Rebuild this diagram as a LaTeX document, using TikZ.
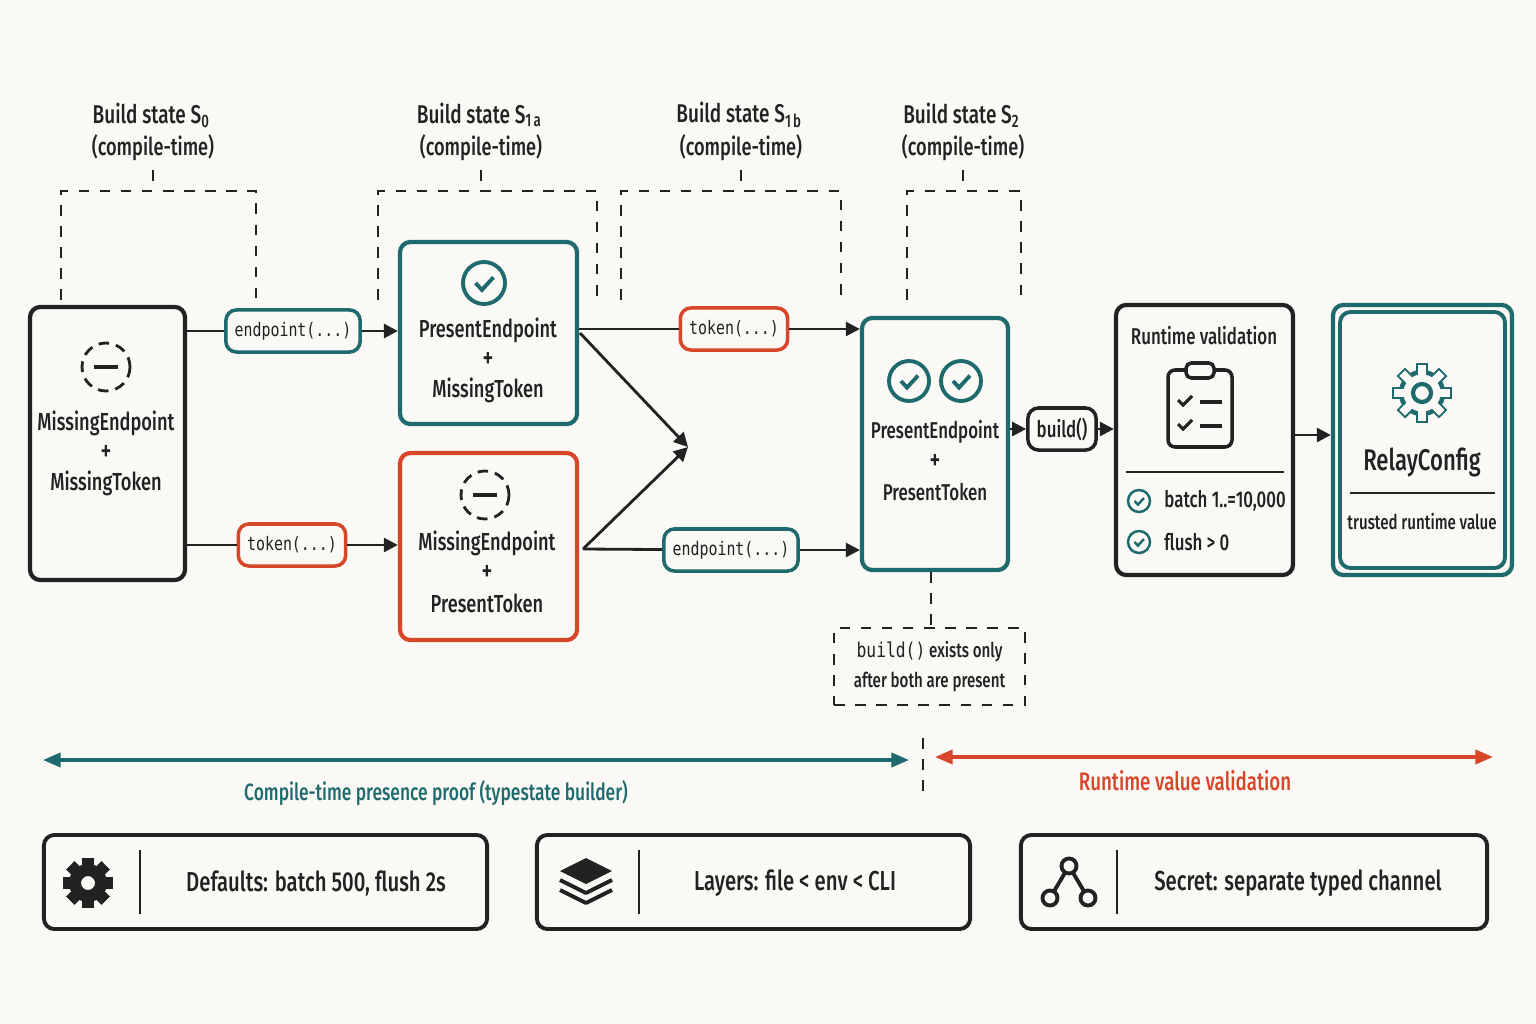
\documentclass[tikz,border=0pt]{standalone}
\usepackage{fontspec}
\setmainfont{Fira Sans Medium}[FakeStretch=0.74]
\setmonofont{DejaVu Sans Mono}[FakeStretch=0.8]
\usetikzlibrary{arrows.meta,positioning,calc}
\definecolor{fond}{HTML}{FAF9F6}
\definecolor{sarcelle}{HTML}{1E6A6C}
\definecolor{brique}{HTML}{D8462A}
\definecolor{encre}{HTML}{222222}
\newcommand{\coche}[3]{\draw[sarcelle,line width=#3] (#1) circle (#2);
  \draw[sarcelle,line width=#3] ($(#1)+(-0.4*#2,0)$) -- ++(0.3*#2,0.33*#2) -- ++(0.55*#2,-0.6*#2);}
\begin{document}
\begin{tikzpicture}[x=0.01cm,y=-0.01cm,font=\fontsize{7}{8.5}\selectfont,color=encre,
                  etat/.style={draw,rounded corners=3pt,line width=1.2pt},
                  lien/.style={draw=#1,fill=fond,text=encre,rounded corners=3pt,line width=1pt,font=\ttfamily\fontsize{5.3}{6}\selectfont,inner sep=2.5pt,minimum height=0.42cm},
                  fl/.style={-{Triangle[length=4pt,width=4pt]},line width=0.8pt,encre},
                  pointille/.style={dashed,line width=0.6pt,encre},
                  plus/.style={font=\fontsize{8}{8}\selectfont},
                  bas/.style={draw,rounded corners=3pt,line width=1.1pt,minimum width=#1,minimum height=0.94cm}]
\fill[fond] (0,0) rectangle (1536,1024);
\useasboundingbox (0,0) rectangle (1536,1024);
% etats de construction
\foreach \x/\n/\a/\b in {153/0/61/256, 481/1a/378/597, 741/1b/621/841, 963/2/907/1021}
  {\node[font=\fontsize{7.3}{9}\selectfont] (titre\n) at (\x,115) {Build state S$_{\mathrm{\n}}$};
   \node[font=\fontsize{7}{9}\selectfont] (temps\n) at (\x,148) {(compile-time)};
   \draw[pointille] (\a,300) -- (\a,191) -- (\b,191) -- (\b,300);
   \draw[pointille] (\x,170) -- (\x,191);};
\node[etat,encre,minimum width=1.55cm,minimum height=2.73cm] (s0) at (107.5,443.5) {};
\node[etat,sarcelle,minimum width=1.77cm,minimum height=1.82cm] (s1a) at (488.5,333) {};
\node[etat,brique,minimum width=1.77cm,minimum height=1.87cm] (s1b) at (488.5,546.5) {};
\node[etat,sarcelle,minimum width=1.46cm,minimum height=2.52cm] (s2) at (935,444) {};
\node[etat,encre,minimum width=1.77cm,minimum height=2.7cm] (rv) at (1204.5,440) {};
\node[etat,sarcelle,minimum width=1.79cm,minimum height=2.7cm] (rc) at (1422.5,440) {};
\draw[sarcelle,line width=1.1pt,rounded corners=3pt] (1340,312) rectangle (1505,568);
% textes
\foreach \n/\x/\y/\t in {s0/106/423/MissingEndpoint, s0b/106/483/MissingToken, a1/488/330/PresentEndpoint, a2/488/390/MissingToken,
   b1/487/543/MissingEndpoint, b2/487/603/PresentToken}
  \node (t\n) at (\x,\y) {\t};
\node[font=\fontsize{6.5}{8}\selectfont] (tc1) at (935,432) {PresentEndpoint};
\node[font=\fontsize{6.5}{8}\selectfont] (tc2) at (935,492) {PresentToken};
\foreach \x/\y in {106/453, 488/360, 487/573, 935/462}
  \node[plus] at (\x,\y) {+};
% icones
\foreach \x/\y in {106/367, 485/495}
  {\draw[encre,dashed,line width=0.8pt,dash pattern=on 3pt off 2pt] (\x,\y) circle (24);
   \draw[encre,line width=1.1pt] (\x-12,\y) -- (\x+12,\y);};
\coordinate (k1) at (484,283); \coordinate (k2) at (909,381); \coordinate (k3) at (961,381);
\coche{k1}{21}{1.1pt} \coche{k2}{20}{1.1pt} \coche{k3}{20}{1.1pt}
% etiquettes
\node[lien=sarcelle] (ep1) at (293,331) {endpoint(...)};
\node[lien=brique] (tk1) at (292,545) {token(...)};
\node[lien=brique] (tk2) at (734,329) {token(...)};
\node[lien=sarcelle] (ep2) at (731,550) {endpoint(...)};
\node[lien=encre,font=\fontsize{6.5}{8}\selectfont] (bd) at (1062,429) {build()};
\coordinate (croix) at (688,447);
\draw[line width=0.8pt] (s0.east |- ep1) -- (ep1); \draw[fl] (ep1) -- (s1a.west |- ep1);
\draw[line width=0.8pt] (s0.east |- tk1) -- (tk1); \draw[fl] (tk1) -- (s1b.west |- tk1);
\draw[line width=0.8pt] (s1a.east |- tk2) -- (tk2); \draw[fl] (tk2) -- (s2.west |- tk2);
\draw[line width=0.8pt] (583,549) -- (ep2); \draw[fl] (ep2) -- (s2.west |- ep2);
\draw[fl] (580,333) -- (croix); \draw[fl] (583,549) -- (croix);
\draw[fl] (s2.east |- bd) -- (bd); \draw[fl] (bd) -- (rv.west |- bd);
\draw[fl] (rv.east |- 0,435) -- (rc.west |- 0,435);
% validation
\node[font=\fontsize{6.5}{8}\selectfont] (rvt) at (1204,336) {Runtime validation};
\draw[encre,line width=1pt,rounded corners=2pt] (1168,370) rectangle (1232,447);
\draw[encre,line width=1pt,fill=fond,rounded corners=1.5pt] (1186,363) rectangle (1214,378);
\foreach \y in {400,424}
  {\draw[encre,line width=0.9pt] (1178,\y) -- ++(5,5) -- ++(9,-9);
   \draw[encre,line width=1pt] (1200,\y+2) -- (1222,\y+2);};
\draw[encre,line width=0.6pt] (1126,472) -- (1284,472);
\coordinate (k4) at (1139,501); \coordinate (k5) at (1139,542);
\coche{k4}{11}{0.7pt} \coche{k5}{11}{0.7pt}
\node[right,font=\fontsize{6.5}{8}\selectfont] (lim1) at (1152,501) {batch 1..=10,000};
\node[right,font=\fontsize{6.5}{8}\selectfont] (lim2) at (1152,542) {flush > 0};
% relayconfig
\node[font=\fontsize{8.5}{10}\selectfont] (rcn) at (1422,462) {RelayConfig};
\draw[encre,line width=0.6pt] (1350,493) -- (1495,493);
\node[font=\fontsize{5.8}{7}\selectfont] (rcs) at (1422,522) {trusted runtime value};
\foreach \a in {0,45,...,315}
  \fill[sarcelle,rotate around={\a:(1422,393)}] (1416,363) rectangle (1428,374);
\draw[sarcelle,line width=1.3pt,fill=fond] (1422,393) circle (21);
\foreach \a in {0,45,...,315}
  \fill[fond,rotate around={\a:(1422,393)}] (1418,365) rectangle (1426,375);
\draw[sarcelle,line width=1.2pt] (1422,393) circle (9);
% note
\node[pointille,draw,minimum width=1.91cm,minimum height=0.77cm,align=center,font=\fontsize{5.8}{8.5}\selectfont] (note) at (929.5,666.5) {\texttt{build()} exists only\\after both are present};
\draw[pointille] (s2.south -| 931,0) -- (note.north -| 931,0);
% phases
\coordinate (p1) at (43,760); \coordinate (p2) at (909,760);
\coordinate (p3) at (935,757); \coordinate (p4) at (1493,757);
\draw[sarcelle,line width=1pt,{Triangle[length=5pt,width=4pt]}-{Triangle[length=5pt,width=4pt]}] (p1) -- (p2);
\draw[brique,line width=1pt,{Triangle[length=5pt,width=4pt]}-{Triangle[length=5pt,width=4pt]}] (p3) -- (p4);
\draw[pointille] (923,738) -- (923,795);
\node[sarcelle,font=\fontsize{6.7}{8}\selectfont] (ph1) at (436,793) {Compile-time presence proof (typestate builder)};
\node[brique,font=\fontsize{7.2}{9}\selectfont] (ph2) at (1185,781) {Runtime value validation};
% encarts du bas
\node[bas=4.43cm] (d1) at (265.5,882) {};
\node[bas=4.33cm] (d2) at (753.5,882) {};
\node[bas=4.66cm] (d3) at (1254,882) {};
\foreach \x in {140,639,1117}
  \draw[encre,line width=0.8pt] (\x,850) -- (\x,914);
\node[font=\fontsize{7.8}{9}\selectfont] (dt1) at (316,883) {Defaults: batch 500, flush 2s};
\node[font=\fontsize{7.8}{9}\selectfont] (dt2) at (795,883) {Layers: file < env < CLI};
\node[font=\fontsize{7.8}{9}\selectfont] (dt3) at (1298,883) {Secret: separate typed channel};
\foreach \a in {0,45,...,315}
  \fill[encre,rotate around={\a:(88,883)}] (82,858) rectangle (94,868);
\fill[encre,even odd rule] (88,883) circle (19) (88,883) circle (7);
\foreach \d in {20,10}
  \draw[encre,line width=1.1pt,line join=round] (560,870+\d) -- (586,883+\d) -- (612,870+\d);
\fill[encre] (586,858) -- (612,871) -- (586,884) -- (560,871) -- cycle;
\draw[encre,line width=1.1pt] (1069,866) -- (1050,898) (1069,866) -- (1088,898);
\foreach \x/\y in {1069/866, 1050/898, 1088/898}
  \draw[encre,line width=1.1pt,fill=fond] (\x,\y) circle (7.5);
\end{tikzpicture}
\end{document}
